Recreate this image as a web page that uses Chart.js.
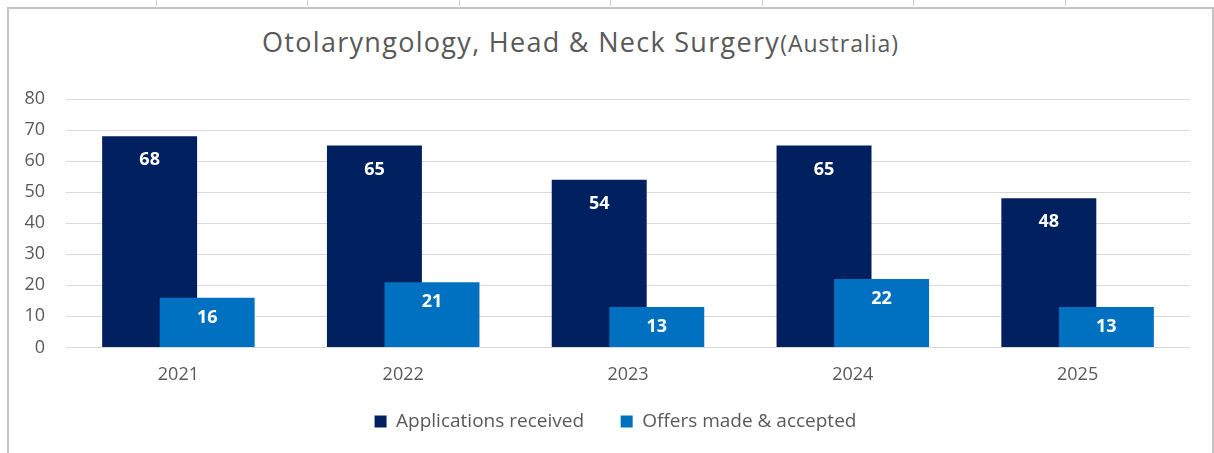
<!DOCTYPE html>
<html>
<head>
<meta charset="utf-8">
<script src="https://cdn.jsdelivr.net/npm/chart.js@4.4.0/dist/chart.umd.min.js"></script>
<style>
  body { margin: 0; background: #fff; width: 1214px; height: 453px; overflow: hidden; position: relative; font-family: "Open Sans", sans-serif; }
  .cell { position: absolute; top: 0; width: 1px; height: 6px; background: #d0d0d0; }
  #frame { position: absolute; left: 7px; top: 7px; width: 1203px; height: 460px; border: 2px solid #c4c4c4; border-bottom: none; }
  #title { position: absolute; left: 262px; top: 25px; white-space: nowrap; color: #595959; font-size: 27px; letter-spacing: 1.3px; line-height: 34px; }
  #title small { font-size: 23px; letter-spacing: 1px; }
  #wrap { position: absolute; left: 9px; top: 9px; width: 1203px; height: 441px; }
</style>
</head>
<body>
<div class="cell" style="left:156px"></div>
<div class="cell" style="left:307px"></div>
<div class="cell" style="left:459px"></div>
<div class="cell" style="left:610px"></div>
<div class="cell" style="left:762px"></div>
<div class="cell" style="left:913px"></div>
<div class="cell" style="left:1065px"></div>
<div id="frame"></div>
<div id="title">Otolaryngology, Head &amp; Neck Surgery<small>(Australia)</small></div>
<div id="wrap"><canvas id="myChart"></canvas></div>
<script>
var years = ["2021", "2022", "2023", "2024", "2025"];
var applications = [68, 65, 54, 65, 48];
var offers = [16, 21, 13, 22, 13];
var seriesNames = ["Applications received", "Offers made & accepted"];
var yTicks = [0, 10, 20, 30, 40, 50, 60, 70, 80];

var darkBlue = "#002060";
var midBlue = "#0070C0";
var textGrey = "#595959";

// excel draws the second series on top, chart.js does the opposite
var drawOrder = {
  id: "drawOrder",
  afterLayout(chart) {
    // excel centres the legend a little right of the canvas centre
    chart.legend.left += 16;
    chart.legend.right += 16;
  },
  beforeDatasetsDraw(chart) {
    var metas = chart.getSortedVisibleDatasetMetas();
    for (var i = 0; i < metas.length; i++) {
      metas[i].controller.draw();
    }
    // value labels inside the top of each bar
    var ctx = chart.ctx;
    ctx.save();
    ctx.fillStyle = "#ffffff";
    ctx.font = "bold 18px 'Open Sans'";
    ctx.textAlign = "center";
    ctx.textBaseline = "middle";
    metas.forEach(function (meta) {
      var values = chart.data.datasets[meta.index].data;
      var offset = meta.index == 0 ? 24 : 20;
      meta.data.forEach(function (bar, j) {
        ctx.fillText(values[j], bar.x, bar.y + offset);
      });
    });
    ctx.restore();
    return false;
  },
};

function setup() {
  var ctx = document.getElementById("myChart").getContext("2d");
  new Chart(ctx, {
    type: "bar",
    data: {
      labels: years,
      datasets: [
        {
          label: seriesNames[0],
          data: applications,
          backgroundColor: darkBlue,
          borderWidth: 0,
          categoryPercentage: 0.512,
          barPercentage: 1.65,
        },
        {
          label: seriesNames[1],
          data: offers,
          backgroundColor: midBlue,
          borderWidth: 0,
          categoryPercentage: 0.512,
          barPercentage: 1.65,
        },
      ],
    },
    options: {
      responsive: true,
      maintainAspectRatio: false,
      animation: false,
      layout: { padding: { top: 90, right: 22, bottom: 9, left: 0 } },
      plugins: {
        title: { display: false },
        tooltip: { enabled: false },
        legend: {
          position: "bottom",
          labels: {
            boxWidth: 12,
            boxHeight: 12,
            padding: 12,
            color: textGrey,
            font: { family: "Open Sans", size: 19 },
            generateLabels: function (chart) {
              var items = Chart.defaults.plugins.legend.labels.generateLabels(chart);
              // wider gap between the two entries without a tall legend box
              items.forEach(function (item, i) {
                if (i < items.length - 1) item.text += "     ";
              });
              return items;
            },
          },
        },
      },
      scales: {
        x: {
          afterFit: function (scale) { scale.height -= 3; },
          grid: { display: false, drawTicks: false },
          border: { display: false },
          ticks: { color: textGrey, padding: 17, font: { family: "Open Sans", size: 18 } },
        },
        y: {
          min: 0,
          max: 80,
          afterFit: function (scale) { scale.width = 57; },
          afterBuildTicks: function (scale) {
            scale.ticks = yTicks.map(function (v) { return { value: v }; });
          },
          grid: { color: "#d9d9d9", lineWidth: 1, drawTicks: false },
          border: { display: false },
          ticks: { color: textGrey, padding: 21, font: { family: "Open Sans", size: 18 } },
        },
      },
    },
    plugins: [drawOrder],
  });
}

setup();
</script>
</body>
</html>
